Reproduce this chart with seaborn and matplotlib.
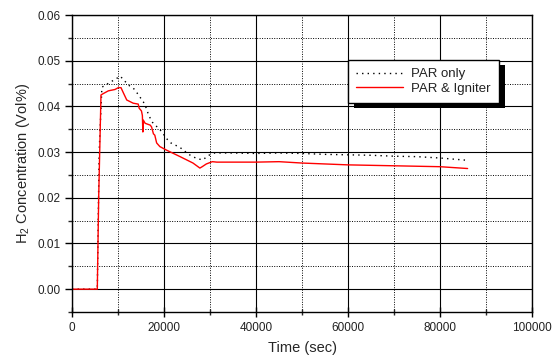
import matplotlib
matplotlib.use("Agg")
import matplotlib.pyplot as plt
import seaborn as sns
import pandas as pd
from matplotlib.ticker import MultipleLocator, FormatStrFormatter
from matplotlib.patches import Rectangle

# ---- data ----
t_par = [0, 5500, 5900, 6500, 8000, 9500, 10500, 11500, 12500, 13500, 14100, 14800,
         15500, 16000, 16700, 17500, 18500, 19500, 20500, 21500, 22500, 23500, 25000,
         26000, 27400, 28500, 29500, 31000, 35000, 40000, 45000, 50000, 55000, 60000,
         65000, 70000, 75000, 80000, 86000]
par_only = [0, 0, 0.030, 0.0442, 0.0451, 0.0460, 0.0466, 0.0455, 0.0445, 0.0438, 0.0430,
            0.0420, 0.0410, 0.0400, 0.0380, 0.0365, 0.0355, 0.0345, 0.0330, 0.0320, 0.0315,
            0.0310, 0.0298, 0.0291, 0.0285, 0.0283, 0.0292, 0.0298, 0.0298, 0.0297, 0.0298,
            0.0297, 0.0295, 0.0294, 0.0293, 0.0291, 0.0290, 0.0287, 0.0282]

t_ign = [0, 5500, 5800, 6300, 6800, 7900, 9350, 10070, 10650, 11150, 11900, 13300, 14400,
         14600, 15100, 15300, 15400, 15500, 15900, 17000, 17300, 17700, 18000, 18400, 19100,
         20600, 23500, 26300, 27800, 28300, 29200, 30500, 31500, 35000, 40000, 45000,
         50000, 55000, 60000, 65000, 70000, 75000, 80000, 86000]
par_igniter = [0, 0, 0.020, 0.0425, 0.0428, 0.0434, 0.0437, 0.0441, 0.0441, 0.0430, 0.0414,
               0.0407, 0.0405, 0.0396, 0.0390, 0.0380, 0.0344, 0.0370, 0.0363, 0.0359, 0.0355,
               0.0340, 0.0337, 0.0320, 0.0312, 0.0304, 0.0290, 0.0276, 0.0265, 0.0268, 0.0274,
               0.0279, 0.0278, 0.0278, 0.0278, 0.0279, 0.0276, 0.0274, 0.0272, 0.0271, 0.0270,
               0.0269, 0.0268, 0.0264]

labels = ["PAR only", "PAR & Igniter"]

df = pd.concat([
    pd.DataFrame({"t": t_par, "c": par_only, "case": labels[0]}),
    pd.DataFrame({"t": t_ign, "c": par_igniter, "case": labels[1]}),
], ignore_index=True)

sns.set_theme(style="white")
plt.rcParams["font.family"] = ["Liberation Sans", "DejaVu Sans"]
plt.rcParams["mathtext.fontset"] = "custom"
plt.rcParams["mathtext.rm"] = "Liberation Sans"
plt.rcParams["text.color"] = "#222222"

fig = plt.figure(figsize=(5.55, 3.62), dpi=100)
ax = fig.add_axes([72/555, 50/362, 460/555, 297/362])

sns.lineplot(data=df, x="t", y="c", hue="case", style="case",
             palette={labels[0]: "black", labels[1]: "#ff0000"},
             dashes={labels[0]: (1, 3), labels[1]: ""},
             linewidth=1.0, estimator=None, sort=False, ax=ax, legend=False)

ax.set_xlim(0, 100000)
ax.set_ylim(-0.005, 0.06)
ax.xaxis.set_major_locator(MultipleLocator(20000))
ax.xaxis.set_minor_locator(MultipleLocator(10000))
ax.yaxis.set_major_locator(MultipleLocator(0.01))
ax.yaxis.set_minor_locator(MultipleLocator(0.005))
ax.yaxis.set_major_formatter(FormatStrFormatter("%.2f"))

ax.grid(which="major", color="black", linewidth=0.8, linestyle="-")
ax.grid(which="minor", color="black", linewidth=0.7, linestyle=(0, (1, 1.5)))
ax.set_axisbelow(True)

for s in ax.spines.values():
    s.set_color("black")
    s.set_linewidth(1.0)
    s.set_visible(True)

ax.tick_params(axis="x", which="major", direction="inout", length=7, width=1,
               labelsize=8.5, colors="black", labelcolor="#222222", bottom=True, pad=4)
ax.tick_params(axis="x", which="minor", direction="inout", length=5, width=1, bottom=True)
ax.tick_params(axis="y", which="major", direction="out", length=5, width=1,
               labelsize=8.5, colors="black", labelcolor="#222222", left=True, pad=3)
ax.tick_params(axis="y", which="minor", direction="out", length=3, width=1, left=True)

ax.set_xlabel("Time (sec)", fontsize=10.5, labelpad=5)
ax.set_ylabel(r"H$_\mathregular{2}$ Concentration (Vol%)", fontsize=10.5, labelpad=4)

h1, = ax.plot([], [], color="black", linestyle=(0, (1, 3)), linewidth=1.0)
h2, = ax.plot([], [], color="#ff0000", linewidth=1.0)
leg = ax.legend([h1, h2], labels, loc="upper left",
                bbox_to_anchor=((348-72)/460, (312-60)/297),
                borderaxespad=0, fontsize=9.5, frameon=True, fancybox=False,
                handlelength=3.6, handletextpad=0.6, borderpad=0.6,
                labelspacing=0.2, edgecolor="black", framealpha=1)
leg.get_frame().set_linewidth(1.0)
leg.set_zorder(6)

fig.canvas.draw()
bb = leg.get_window_extent()
inv = ax.transAxes.inverted()
(x0, y0), (x1, y1) = inv.transform([[bb.x0 + 6, bb.y0 - 5], [bb.x1 + 6, bb.y1 - 5]])
ax.add_patch(Rectangle((x0, y0), x1 - x0, y1 - y0, transform=ax.transAxes,
                       facecolor="black", edgecolor="none", zorder=5.5, clip_on=False))

fig.savefig("out.png", dpi=100)
